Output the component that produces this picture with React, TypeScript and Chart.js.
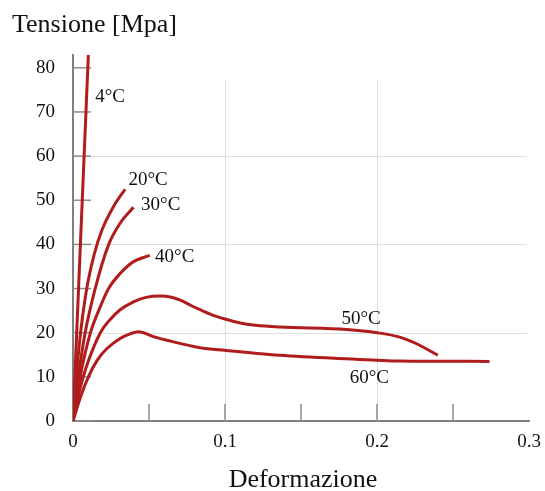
import React, { useEffect, useRef } from "react";
import { Chart, registerables } from "chart.js";

Chart.register(...registerables);

// ---- data ----
const strain4 = [0, 0.0101];
const stress4 = [0, 82.9];

const strain20 = [0, 0.002, 0.0045, 0.0088, 0.014, 0.019, 0.0267, 0.0343];
const stress20 = [0, 9, 18.5, 29.5, 37.8, 43.2, 48.6, 52.5];

const strain30 = [0, 0.0035, 0.008, 0.0146, 0.0235, 0.031, 0.0398];
const stress30 = [0, 10, 20, 30, 40, 44.8, 48.4];

const strain40 = [0, 0.0047, 0.0115, 0.0175, 0.0234, 0.031, 0.0398, 0.0505];
const stress40 = [0, 10, 20, 25.5, 30, 33.4, 36.1, 37.5];

const strain50 = [0, 0.004, 0.009, 0.018, 0.0245, 0.031, 0.0398, 0.048, 0.0573, 0.064, 0.071, 0.078, 0.0836, 0.091, 0.1, 0.11, 0.12, 0.136, 0.18, 0.2, 0.215, 0.226, 0.24];
const stress50 = [0, 6.5, 12.5, 20, 23, 25.2, 27.0, 28.0, 28.3, 28.1, 27.3, 26.1, 25.2, 24.1, 23.1, 22.2, 21.7, 21.3, 20.7, 20.0, 19.0, 17.5, 14.9];

const strain60 = [0, 0.005, 0.0105, 0.016, 0.022, 0.031, 0.038, 0.043, 0.054, 0.0617, 0.0836, 0.1, 0.136, 0.18, 0.215, 0.274];
const stress60 = [0, 5.5, 10.3, 13.8, 16.3, 18.7, 19.8, 20.2, 19.0, 18.3, 16.6, 16.0, 14.9, 14.1, 13.6, 13.5];

const seriesNames = ["4°C", "20°C", "30°C", "40°C", "50°C", "60°C"];
const labelStrain = [0.0146, 0.0365, 0.0448, 0.054, 0.1766, 0.182];
const labelStress = [73.4, 54.6, 48.9, 37.2, 23.2, 9.8];

const yTickValues = [0, 10, 20, 30, 40, 50, 60, 70, 80];
const xTickValues = [0, 0.1, 0.2, 0.3];
const xTickLabels = ["0", "0.1", "0.2", "0.3"];
const xMarkValues = [0.05, 0.1, 0.15, 0.2, 0.25];
const yGridValues = [20, 40, 60];
const xGridValues = [0.1, 0.2];

const yTitle = "Tensione [Mpa]";
const xTitle = "Deformazione";

const FONT = "'Liberation Serif', 'Times New Roman', serif";
const RED = "#b01c1c";

function pts(xs: number[], ys: number[]) {
  return xs.map((x, i) => ({ x, y: ys[i] }));
}

const decor = {
  id: "decor",
  beforeDatasetsDraw(chart: any) {
    const { ctx, scales } = chart;
    const x = scales.x;
    const y = scales.y;
    ctx.save();
    ctx.strokeStyle = "#dedede";
    ctx.lineWidth = 1;
    yGridValues.forEach((v) => {
      const py = Math.round(y.getPixelForValue(v)) + 0.5;
      ctx.beginPath();
      ctx.moveTo(x.left, py);
      ctx.lineTo(x.right - 2, py);
      ctx.stroke();
    });
    xGridValues.forEach((v) => {
      const px = Math.round(x.getPixelForValue(v)) + 0.5;
      ctx.beginPath();
      ctx.moveTo(px, y.getPixelForValue(77.3));
      ctx.lineTo(px, y.bottom);
      ctx.stroke();
    });
    ctx.strokeStyle = "#8c8c8c";
    ctx.lineWidth = 1.5;
    yTickValues.forEach((v) => {
      const py = y.getPixelForValue(v);
      ctx.beginPath();
      ctx.moveTo(x.left, py);
      ctx.lineTo(x.left + 18, py);
      ctx.stroke();
    });
    xMarkValues.forEach((v) => {
      const px = x.getPixelForValue(v);
      ctx.beginPath();
      ctx.moveTo(px, y.bottom);
      ctx.lineTo(px, y.bottom - 17);
      ctx.stroke();
    });
    ctx.restore();
  },
  afterDraw(chart: any) {
    const { ctx, scales } = chart;
    const x = scales.x;
    const y = scales.y;
    ctx.save();
    ctx.fillStyle = "#111";
    ctx.textAlign = "left";
    ctx.textBaseline = "middle";
    ctx.font = `19px ${FONT}`;
    seriesNames.forEach((name, i) => {
      ctx.fillText(name, x.getPixelForValue(labelStrain[i]), y.getPixelForValue(labelStress[i]));
    });
    ctx.textBaseline = "alphabetic";
    ctx.font = `26px ${FONT}`;
    ctx.textAlign = "left";
    ctx.fillText(yTitle, 12, 32);
    ctx.textAlign = "center";
    ctx.fillText(xTitle, (x.left + x.right) / 2 + 2, 487);
    ctx.restore();
  },
};

export default function App() {
  const ref = useRef<HTMLCanvasElement | null>(null);
  useEffect(() => {
    document.body.style.margin = "0";
    const canvas = ref.current!;
    const mk = (i: number, xs: number[], ys: number[]) => ({
      label: seriesNames[i],
      data: pts(xs, ys),
      borderColor: RED,
      backgroundColor: RED,
      borderWidth: 3,
      pointRadius: 0,
      fill: false,
      cubicInterpolationMode: "monotone" as const,
    });
    const chart = new Chart(canvas, {
      type: "line",
      data: {
        datasets: [
          mk(0, strain4, stress4),
          mk(1, strain20, stress20),
          mk(2, strain30, stress30),
          mk(3, strain40, stress40),
          mk(4, strain50, stress50),
          mk(5, strain60, stress60),
        ],
      },
      options: {
        responsive: false,
        animation: false,
        layout: { padding: { top: 55, right: 16, left: 0, bottom: 0 } },
        plugins: { legend: { display: false }, tooltip: { enabled: false }, title: { display: false } },
        scales: {
          x: {
            type: "linear",
            min: 0,
            max: 0.3,
            grid: { display: false, drawTicks: false },
            border: { display: true, color: "#808080", width: 2 },
            afterBuildTicks: (s: any) => {
              s.ticks = xTickValues.map((v) => ({ value: v }));
            },
            afterFit: (s: any) => {
              s.height = 70;
              s.paddingRight = 0;
              s.paddingLeft = 0;
            },
            ticks: {
              color: "#111",
              font: { family: FONT, size: 19 },
              padding: 10,
              maxRotation: 0,
              autoSkip: false,
              callback: (_v: any, i: number) => xTickLabels[i],
            },
          },
          y: {
            type: "linear",
            min: 0,
            max: 82.9,
            grid: { display: false, drawTicks: false },
            border: { display: true, color: "#808080", width: 2 },
            afterBuildTicks: (s: any) => {
              s.ticks = yTickValues.map((v) => ({ value: v }));
            },
            afterFit: (s: any) => {
              s.width = 73;
              s.paddingTop = 0;
              s.paddingBottom = 0;
            },
            ticks: {
              color: "#111",
              font: { family: FONT, size: 19 },
              padding: 18,
              autoSkip: false,
              callback: (v: any) => String(v),
            },
          },
        },
      },
      plugins: [decor],
    });
    return () => chart.destroy();
  }, []);
  return (
    <div style={{ width: 545, height: 491 }}>
      <canvas ref={ref} width={545} height={491} />
    </div>
  );
}
